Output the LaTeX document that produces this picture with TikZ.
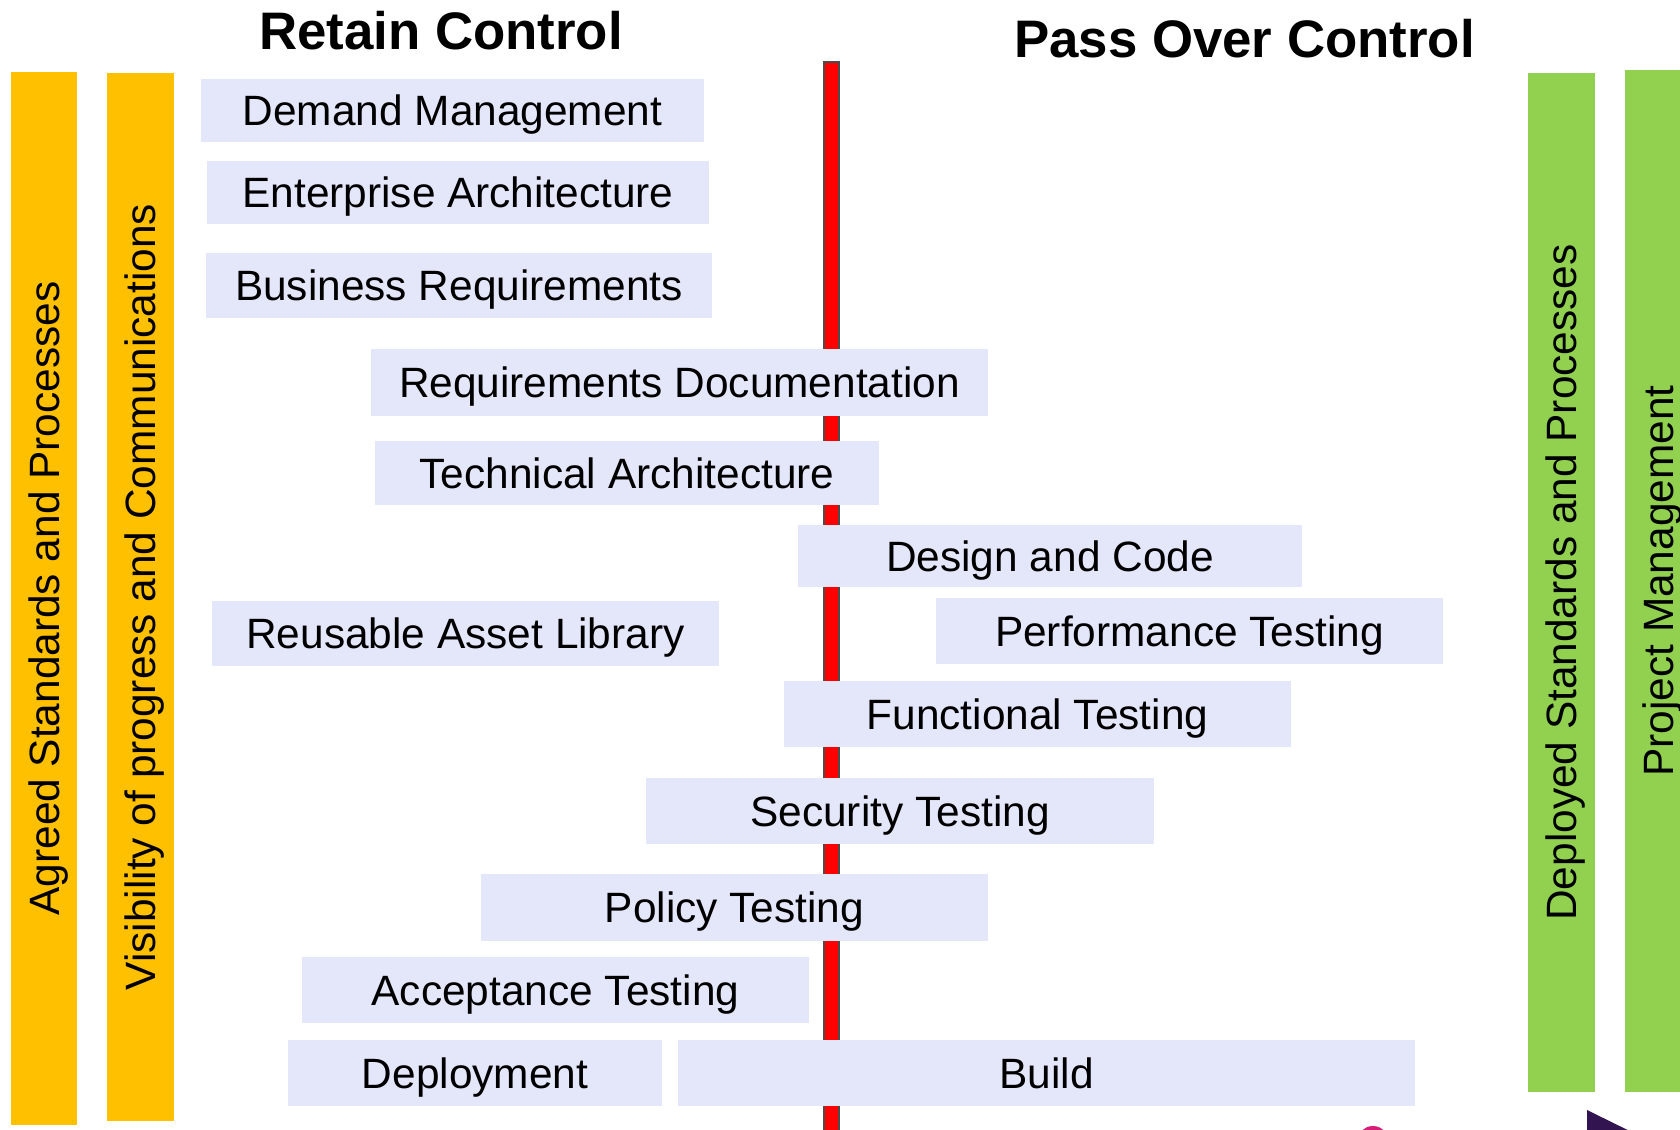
\documentclass[tikz,border=0pt]{standalone}
\usepackage{fontspec}
\setmainfont{Liberation Sans}
\definecolor{boxfill}{RGB}{228,230,250}
\definecolor{orangebar}{RGB}{255,192,0}
\definecolor{greenbar}{RGB}{146,208,80}
\definecolor{darkpurple}{RGB}{49,20,80}
\definecolor{pinkring}{RGB}{214,30,120}
\begin{document}
\begin{tikzpicture}[x=0.5pt,y=-0.5pt,
  box/.style={fill=boxfill, draw=none, inner sep=0pt, font=\fontsize{21.2}{25}\selectfont, text height=15.2pt, text depth=0pt},
  vbar/.style={draw=none, inner sep=0pt, rotate=90, font=\fontsize{21.2}{25}\selectfont, text height=15.2pt, text depth=0pt},
  title/.style={font=\fontsize{26.4}{30}\bfseries\selectfont, anchor=base, inner sep=0pt},
  divider/.style={fill=red, draw=black!70, line width=0.8pt, inner sep=0pt, minimum width=7.5pt}
]
\useasboundingbox (0,0) rectangle (1680,1129);
\clip (0,0) rectangle (1680,1129);

% titles
\node[title] (retain) at (441,50) {Retain Control};
\node[title] (pass) at (1244.5,58) {Pass Over Control};

% side bars
\node[vbar, fill=orangebar, minimum width=526.5pt, minimum height=33pt] (agreed) at (44,598.5) {Agreed Standards and Processes};
\node[vbar, fill=orangebar, minimum width=524pt, minimum height=33.5pt] (visib) at (140.5,597) {Visibility of progress and Communications};
\node[vbar, fill=greenbar, minimum width=509.5pt, minimum height=33.5pt] (deployed) at (1561.5,582.5) {Deployed Standards and Processes};
\node[vbar, fill=greenbar, minimum width=511pt, minimum height=33.5pt] (pm) at (1658.5,581) {Project Management};

% divider line
\node[divider, minimum height=545pt] (div) at (831.5,607) {};

% boxes
\node[box, minimum width=251.5pt, minimum height=31.5pt] (dm) at (452.5,110.5) {Demand Management};
\node[box, minimum width=251pt, minimum height=31.5pt] (ea) at (458,192.5) {Enterprise Architecture};
\node[box, minimum width=253pt, minimum height=32.5pt] (br) at (459,285.5) {Business Requirements};
\node[box, minimum width=308.5pt, minimum height=33.5pt] (rd) at (679.5,382.5) {Requirements Documentation};
\node[box, minimum width=252pt, minimum height=32pt] (ta) at (627,473) {Technical Architecture};
\node[box, minimum width=252pt, minimum height=31pt] (dc) at (1050,556) {Design and Code};
\node[box, minimum width=253.5pt, minimum height=33pt] (pt) at (1189.5,631) {Performance Testing};
\node[box, minimum width=253.5pt, minimum height=32.5pt] (ral) at (465.5,633.5) {Reusable Asset Library};
\node[box, minimum width=253.5pt, minimum height=33pt] (ft) at (1037.5,714) {Functional Testing};
\node[box, minimum width=254pt, minimum height=33pt] (st) at (900,811) {Security Testing};
\node[box, minimum width=253.5pt, minimum height=33.5pt] (pol) at (734.5,907.5) {Policy Testing};
\node[box, minimum width=253.5pt, minimum height=33pt] (at) at (555.5,990) {Acceptance Testing};
\node[box, minimum width=187pt, minimum height=33pt] (dep) at (475,1073) {Deployment};
\node[box, minimum width=368.5pt, minimum height=33pt] (build) at (1046.5,1073) {Build};

% partial shapes at bottom edge
\fill[darkpurple] (1587,1110) -- (1650,1141) -- (1587,1172) -- cycle;
\draw[pinkring, line width=2pt] (1373,1142) circle[radius=14];
\end{tikzpicture}
\end{document}
